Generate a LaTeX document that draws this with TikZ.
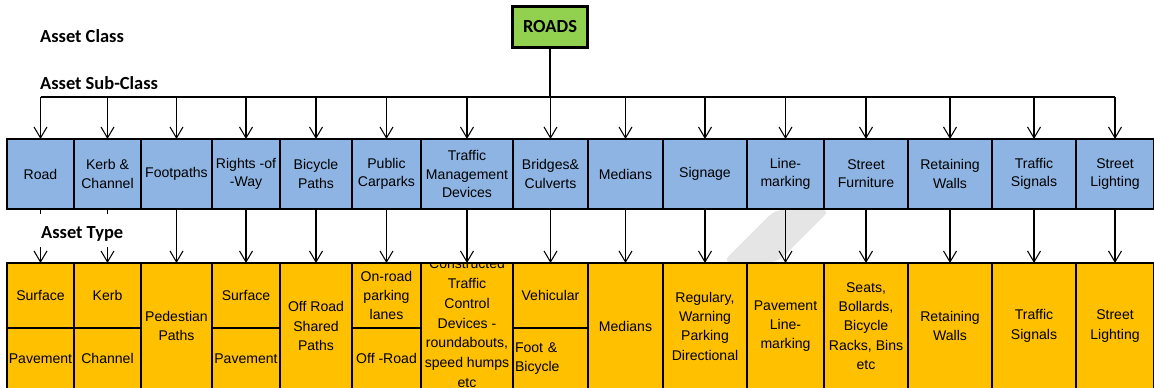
\documentclass[tikz,border=0pt]{standalone}
\usepackage{fontspec}
\setmainfont{Liberation Sans}
\newfontfamily\headfont{Carlito}
\usetikzlibrary{arrows.meta,chains,positioning}
\definecolor{roadgreen}{HTML}{92D050}
\definecolor{subblue}{HTML}{8DB4E2}
\definecolor{typeorange}{HTML}{FFC000}
\tikzset{head/.style={font=\headfont\bfseries\fontsize{10.5}{12}\selectfont, anchor=west, inner sep=1pt}, box/.style={draw, line width=1pt, outer sep=0pt, inner sep=1pt, align=center}, sub/.style={box, fill=subblue, minimum height=14mm, font=\fontsize{8}{10.4}\selectfont, on chain}, typ/.style={box, fill=typeorange, font=\fontsize{8}{11}\selectfont}, typhi/.style={typ, minimum height=13mm}, typlo/.style={typ, minimum height=12.2mm}, typfull/.style={typ, minimum height=25.2mm}, arr/.style={semithick, -{Straight Barb[length=2.2mm,width=2.6mm]}}}

\begin{document}
\begin{tikzpicture}[x=0.2mm, y=-0.2mm, start chain=going right, node distance=0mm]
    \useasboundingbox (0,0) rectangle (1154,388);
    \fill[gray!20, rounded corners=1.5mm] (723,262) -- (775,210) -- (830,210) -- (778,262) -- cycle;

    \node[head] (cls) at (38,36) {Asset Class};
    \node[head] (subcls) at (38,83) {Asset Sub-Class};
    \node[box, fill=roadgreen, line width=1.2pt, minimum width=15mm, minimum height=8.2mm, font=\headfont\bfseries\fontsize{10.5}{12}\selectfont] (roads) at (550,27) {ROADS};

    \node[sub, minimum width=13.4mm, anchor=north west] (b1) at (7,139) {Road};
    \node[sub, minimum width=13.4mm] (b2) {Kerb \&\\Channel};
    \node[sub, minimum width=14.2mm] (b3) {Footpaths};
    \node[sub, minimum width=13.6mm] (b4) {Rights -of\\-Way};
    \node[sub, minimum width=14.4mm] (b5) {Bicycle\\Paths};
    \node[sub, minimum width=13.8mm] (b6) {Public\\Carparks};
    \node[sub, minimum width=18.4mm] (b7) {Traffic\\Management\\Devices};
    \node[sub, minimum width=15mm] (b8) {Bridges\&\\Culverts};
    \node[sub, minimum width=15mm] (b9) {Medians};
    \node[sub, minimum width=16.8mm] (b10) {Signage};
    \node[sub, minimum width=15.4mm] (b11) {Line-\\marking};
    \node[sub, minimum width=16.8mm] (b12) {Street\\Furniture};
    \node[sub, minimum width=16.8mm] (b13) {Retaining\\Walls};
    \node[sub, minimum width=16.8mm] (b14) {Traffic\\Signals};
    \node[sub, minimum width=15.6mm] (b15) {Street\\Lighting};

    \node[typhi, minimum width=13.4mm, below=10.8mm of b1] (o1) {Surface};
    \node[typlo, minimum width=13.4mm, below=of o1] (o1b) {Pavement};
    \node[typhi, minimum width=13.4mm, below=10.8mm of b2] (o2) {Kerb};
    \node[typlo, minimum width=13.4mm, below=of o2] (o2b) {Channel};
    \node[typfull, minimum width=14.2mm, below=10.8mm of b3] (o3) {Pedestian\\Paths};
    \node[typhi, minimum width=13.6mm, below=10.8mm of b4] (o4) {Surface};
    \node[typlo, minimum width=13.6mm, below=of o4] (o4b) {Pavement};
    \node[typfull, minimum width=14.4mm, below=10.8mm of b5] (o5) {Off Road\\Shared\\Paths};
    \node[typhi, minimum width=13.8mm, below=10.8mm of b6] (o6) {On-road\\parking\\lanes};
    \node[typlo, minimum width=13.8mm, below=of o6] (o6b) {Off -Road};
    \node[typfull, minimum width=18.4mm, below=10.8mm of b7] (o7) {};
    \begin{scope}
        \clip (o7.north west) rectangle (o7.south east);
        \node[align=center, inner sep=0pt, yshift=0.6mm, font=\fontsize{8}{11.2}\selectfont] (o7t) at (o7) {Constructed\\Traffic\\Control\\Devices -\\roundabouts,\\speed humps\\etc};
    \end{scope}
    \node[typhi, minimum width=15mm, below=10.8mm of b8] (o8) {Vehicular};
    \node[typlo, minimum width=15mm, text width=14.2mm, align=left, below=of o8] (o8b) {Foot \&\\Bicycle};
    \node[typfull, minimum width=15mm, below=10.8mm of b9] (o9) {Medians};
    \node[typfull, minimum width=16.8mm, below=10.8mm of b10] (o10) {Regulary,\\Warning\\Parking\\Directional};
    \node[typfull, minimum width=15.4mm, below=10.8mm of b11] (o11) {Pavement\\Line-\\marking};
    \node[typfull, minimum width=16.8mm, below=10.8mm of b12] (o12) {Seats,\\Bollards,\\Bicycle\\Racks, Bins\\etc};
    \node[typfull, minimum width=16.8mm, below=10.8mm of b13] (o13) {Retaining\\Walls};
    \node[typfull, minimum width=16.8mm, below=10.8mm of b14] (o14) {Traffic\\Signals};
    \node[typfull, minimum width=15.6mm, below=10.8mm of b15] (o15) {Street\\Lighting};

    \coordinate (bus) at (549,97);
    \draw[semithick] (roads.south) -- (roads.south |- bus);
    \draw[semithick] (b1.north |- bus) -- (b15.north |- bus);
    \foreach \i in {1,...,15} {
        \draw[arr] (b\i.north |- bus) -- (b\i.north);
        \draw[arr] (b\i) -- (o\i);
    }
    \node[head, fill=white, text height=4.65mm, text depth=1.25mm] (typ) at (39,230.5) {Asset Type};
\end{tikzpicture}
\end{document}
